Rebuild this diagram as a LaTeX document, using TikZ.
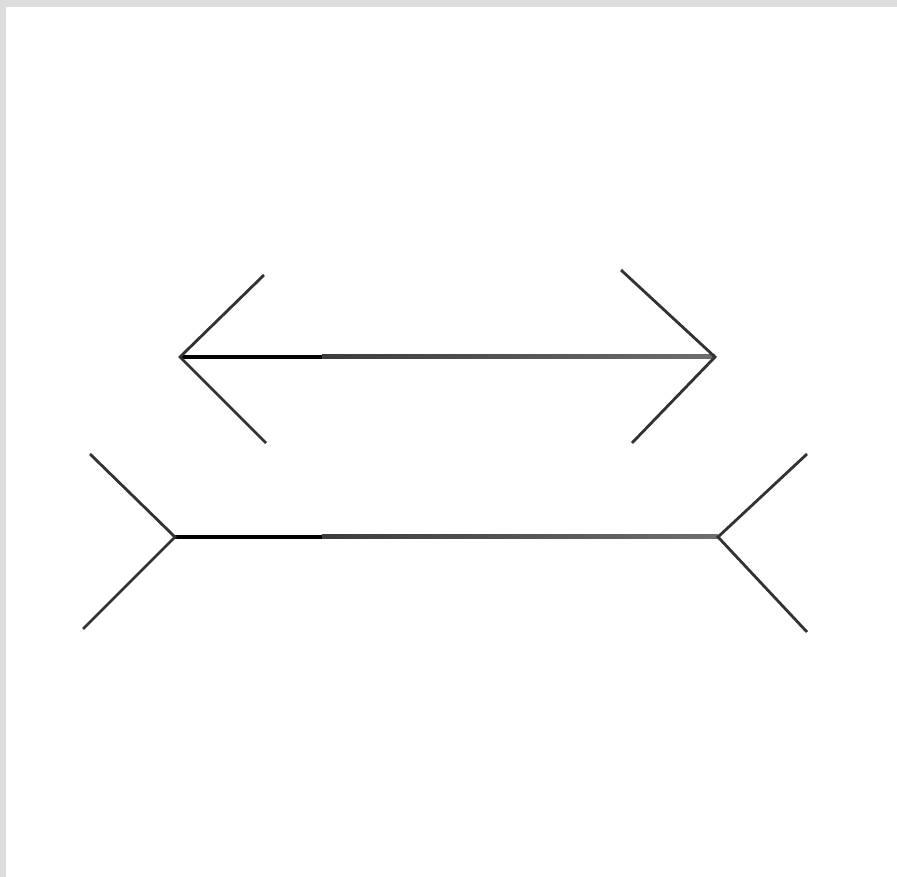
\documentclass[tikz,border=0pt]{standalone}
\usetikzlibrary{calc}
\definecolor{framecol}{RGB}{221,221,221}
\definecolor{fincol}{RGB}{50,50,50}
\definecolor{barleft}{RGB}{60,60,60}
\definecolor{barright}{RGB}{110,110,110}
\tikzset{
  fin/.style   = {draw=fincol, line width=0.7mm, line cap=butt},
  bar/.style   = {left color=barleft, right color=barright, draw=none},
  solid bar/.style = {fill=black, draw=none},
}

\begin{document}
\begin{tikzpicture}[x=0.25mm, y=-0.25mm]

  % frame
  \fill[framecol] (0,0) rectangle (897,877);
  \fill[white] (6,7) rectangle (897,877);
  \useasboundingbox (0,0) rectangle (897,877);

  % upper figure: arrow heads pointing out
  \coordinate (topL) at (180,357);
  \coordinate (topR) at (715,357);
  \coordinate (topM) at (322,357);
  \fill[solid bar] ($(topL)+(0,-2)$) rectangle ($(topM)+(0,2)$);
  \shade[bar] ($(topM)+(0,-2)$) rectangle ($(topR)+(0,2)$);
  \draw[fin] (264,275) -- (topL) -- (266,443);
  \draw[fin] (621,270) -- (topR) -- (632,443);

  % lower figure: fins pointing in
  \coordinate (botL) at (175,537);
  \coordinate (botR) at (718,537);
  \coordinate (botM) at (322,537);
  \fill[solid bar] ($(botL)+(0,-2)$) rectangle ($(botM)+(0,2)$);
  \shade[bar] ($(botM)+(0,-2)$) rectangle ($(botR)+(0,2)$);
  \draw[fin] (90,454) -- (botL) -- (83,629);
  \draw[fin] (807,454) -- (botR) -- (807,632);

\end{tikzpicture}
\end{document}
